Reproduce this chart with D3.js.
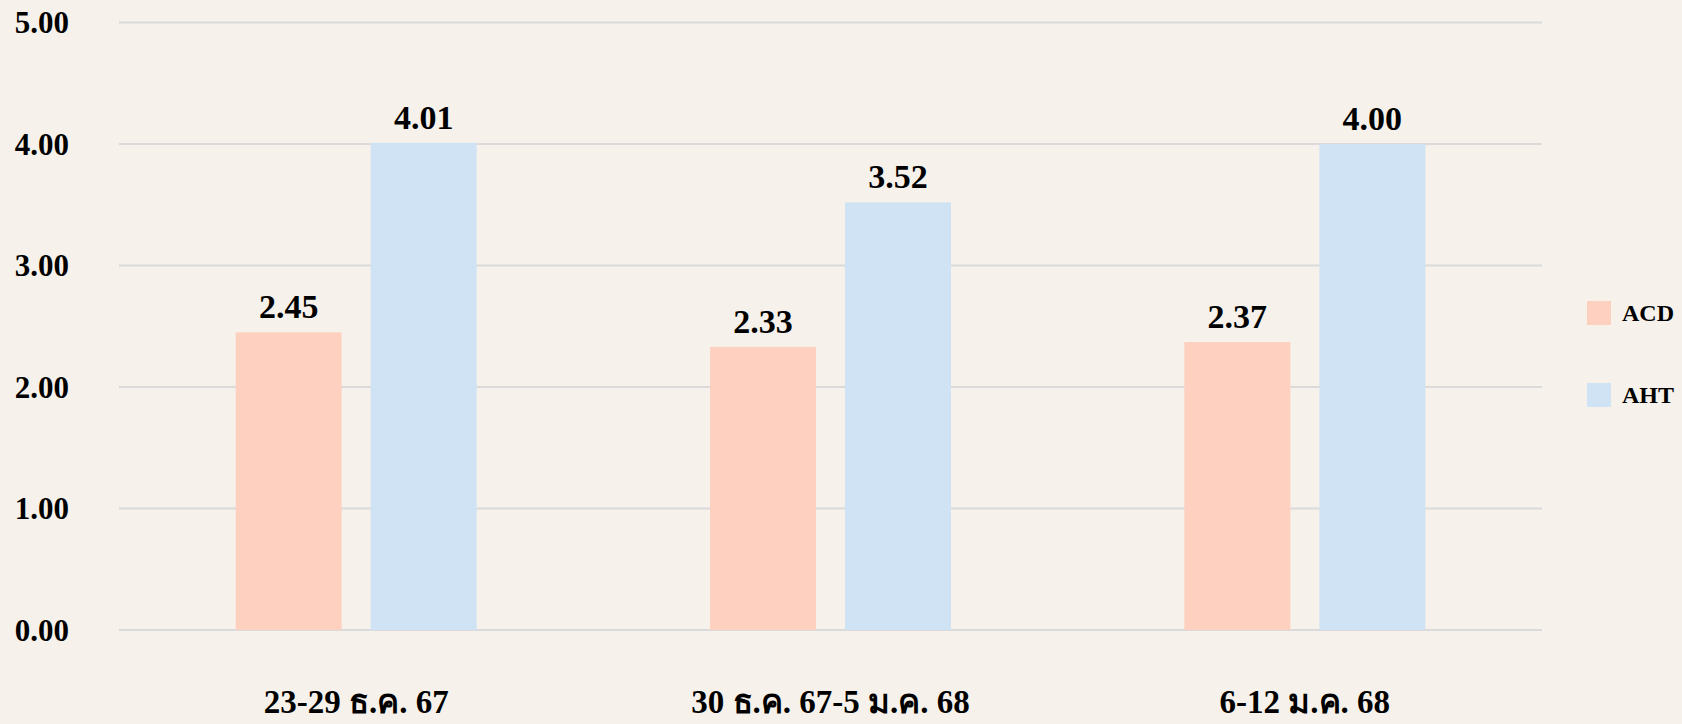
<!DOCTYPE html>
<html><head><meta charset="utf-8">
<script src="https://cdn.jsdelivr.net/npm/d3@7/dist/d3.min.js"></script>
<style>
html,body{margin:0;padding:0;background:#F6F2EB;}
svg{display:block;}
text{font-family:"Liberation Serif","Times New Roman",serif;font-weight:bold;fill:#000;}
</style></head>
<body><svg id="c" width="1682" height="724"></svg>
<script>
const categories = ["23-29 ธ.ค. 67", "30 ธ.ค. 67-5 ม.ค. 68", "6-12 ม.ค. 68"];
const seriesNames = ["ACD", "AHT"];
const acdValues = [2.45, 2.33, 2.37];
const ahtValues = [4.01, 3.52, 4.00];
const yTicks = [0, 1, 2, 3, 4, 5];
const colors = ["#FED0C0", "#D0E3F4"];

const svg = d3.select("#c");
const mLeft = 119, mRight = 1542, mTop = 22.5, mBottom = 630;

const x = d3.scaleBand().domain(categories).range([mLeft, mRight]).paddingInner(0).paddingOuter(0);
const xs = d3.scaleBand().domain(seriesNames).range([0, x.bandwidth()]).paddingInner(0.215).paddingOuter(0.864);
const y = d3.scaleLinear().domain([0, 5]).range([mBottom, mTop]);

// gridlines
svg.append("g").selectAll("line").data(yTicks).join("line")
  .attr("x1", mLeft).attr("x2", mRight)
  .attr("y1", d => y(d)).attr("y2", d => y(d))
  .attr("stroke", "#DADADA").attr("stroke-width", 2);

// y axis labels
const yAxis = d3.axisLeft(y).tickValues(yTicks).tickFormat(d3.format(".2f")).tickSize(0).tickPadding(0);
const ya = svg.append("g").attr("transform", "translate(69,0)").call(yAxis);
ya.select(".domain").remove();
ya.selectAll("text").attr("font-size", 31).attr("dy", "0.33em")
  .style("font-family", '"Liberation Serif","Times New Roman",serif').style("font-weight", "bold").attr("fill", "#000");

// x axis labels
const xAxis = d3.axisBottom(x).tickSize(0).tickPadding(0);
const xa = svg.append("g").attr("transform", "translate(0,713)").call(xAxis);
xa.select(".domain").remove();
xa.selectAll("text").attr("font-size", 33).attr("dy", 0)
  .style("font-family", '"Liberation Serif","Times New Roman",serif').style("font-weight", "bold").attr("fill", "#000");

const data = categories.map((c, i) => ({cat: c, vals: [
  {s: "ACD", v: acdValues[i], c: colors[0]},
  {s: "AHT", v: ahtValues[i], c: colors[1]}
]}));

const g = svg.append("g").selectAll("g").data(data).join("g")
  .attr("transform", d => `translate(${x(d.cat)},0)`);
g.selectAll("rect").data(d => d.vals).join("rect")
  .attr("x", d => xs(d.s)).attr("width", xs.bandwidth())
  .attr("y", d => y(d.v)).attr("height", d => y(0) - y(d.v))
  .attr("fill", d => d.c);
g.selectAll("text.v").data(d => d.vals).join("text").attr("class", "v")
  .attr("x", d => xs(d.s) + xs.bandwidth() / 2)
  .attr("y", d => y(d.v) - 14)
  .attr("text-anchor", "middle").attr("font-size", 34)
  .text(d => d3.format(".2f")(d.v));

// legend
const lg = svg.append("g").selectAll("g").data(seriesNames).join("g")
  .attr("transform", (d, i) => `translate(1587,${301 + i * 82})`);
lg.append("rect").attr("width", 24).attr("height", 24).attr("fill", (d, i) => colors[i]);
lg.append("text").attr("x", 35).attr("y", 20).attr("font-size", 24).text(d => d);
</script></body></html>
